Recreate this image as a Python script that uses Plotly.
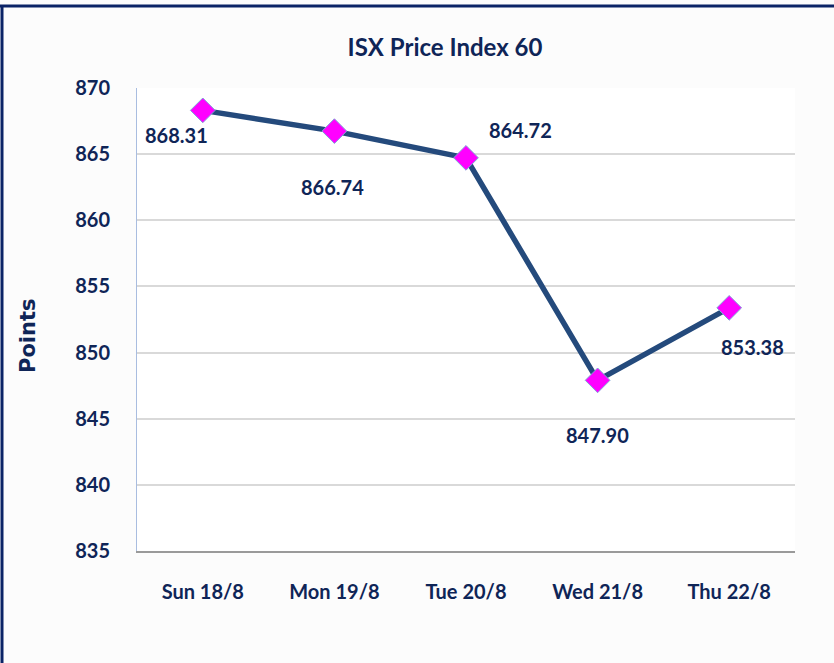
import plotly.graph_objects as go

days = ["Sun 18/8", "Mon 19/8", "Tue 20/8", "Wed 21/8", "Thu 22/8"]
values = [868.31, 866.74, 864.72, 847.90, 853.38]
value_labels = ["868.31", "866.74", "864.72", "847.90", "853.38"]
y_ticks = [835, 840, 845, 850, 855, 860, 865, 870]

label_shift = [(-26, -25), (-2, -56), (54, 28), (0, -55), (23, -39)]

NAVY = "#0f2557"
FONT = "Lato, Open Sans, sans-serif"

fig = go.Figure()
fig.add_trace(go.Scatter(
    x=days, y=values, mode="lines+markers",
    line=dict(color="#244a7c", width=5.5),
    marker=dict(symbol="diamond", size=19, color="#ff00ff",
                line=dict(color="#7ea6d8", width=1)),
    hoverinfo="x+y", showlegend=False,
))

for d, v, t, (dx, dy) in zip(days, values, value_labels, label_shift):
    fig.add_annotation(x=d, y=v, text=t, showarrow=False, xshift=dx, yshift=dy,
                       font=dict(family=FONT, size=20, color=NAVY, weight="bold"))

# y-axis title
fig.add_annotation(xref="paper", yref="paper", x=(28 - 137) / 658, y=(551 - 336) / 463,
                   text="<b>Points</b>", textangle=-90, showarrow=False,
                   xanchor="center", yanchor="middle",
                   font=dict(family="DejaVu Sans, Verdana, sans-serif", size=21, color=NAVY))

# page frame
fig.add_shape(type="line", xref="paper", yref="paper",
              x0=-0.21, x1=1.1, y0=(551 - 6) / 463, y1=(551 - 6) / 463,
              line=dict(color="#0b2366", width=3))
fig.add_shape(type="line", xref="paper", yref="paper",
              x0=(2 - 137) / 658, x1=(2 - 137) / 658, y0=(551 - 6) / 463, y1=-0.3,
              line=dict(color="#0b2366", width=3))

fig.update_layout(
    width=834, height=663,
    margin=dict(l=137, r=39, t=88, b=112),
    paper_bgcolor="#fcfcfc", plot_bgcolor="#ffffff",
    title=dict(text="<b>ISX Price Index 60</b>", x=445 / 834, xanchor="center",
               y=1 - 48 / 663, yanchor="middle",
               font=dict(family=FONT, size=24, color=NAVY)),
    xaxis=dict(type="category", range=[-0.5, 4.5], showgrid=False,
               showline=True, linecolor="#9a9a9a", linewidth=2,
               tickfont=dict(family=FONT, size=20, color=NAVY, weight="bold"),
               ticks="", ticklabelstandoff=22),
    yaxis=dict(range=[835, 870], tickvals=y_ticks, showgrid=True,
               gridcolor="#d9d9d9", gridwidth=2, zeroline=False,
               showline=True, linecolor="#a9bde0", linewidth=1,
               tickfont=dict(family=FONT, size=20, color=NAVY, weight="bold"),
               ticks="", ticklabelstandoff=22),
)

fig.write_html("out.html", post_script="document.body.style.margin='0';",
               config={"displayModeBar": False})
